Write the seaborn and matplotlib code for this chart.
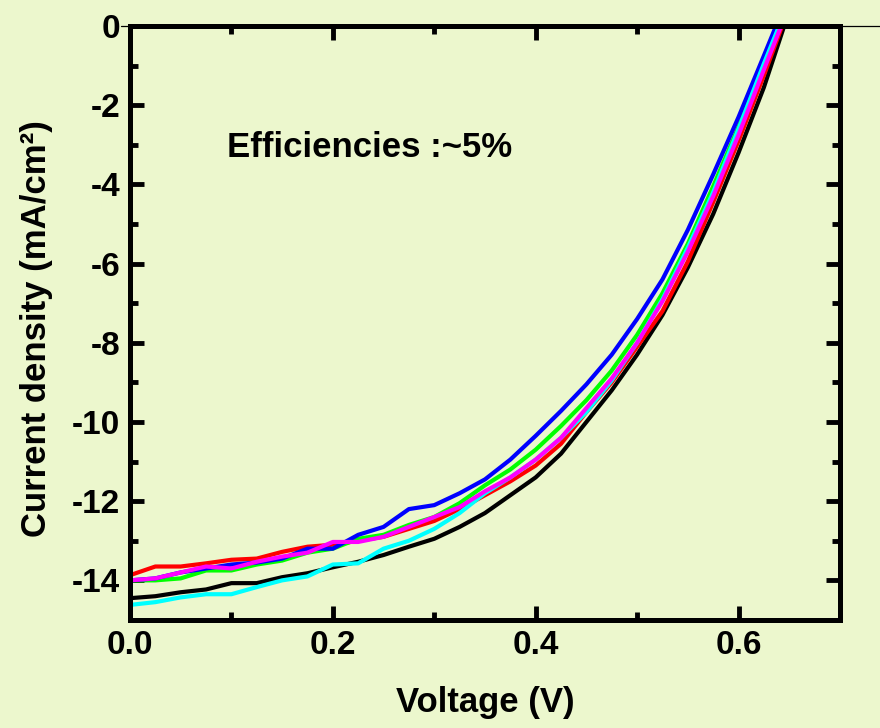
import matplotlib
matplotlib.use("Agg")
import matplotlib.pyplot as plt
import pandas as pd
import seaborn as sns
from matplotlib.ticker import MultipleLocator

BG = "#ECF7CD"

# shared voltage grid (V), every curve also gets its own end point at J = 0
V_GRID = [0.0, 0.025, 0.05, 0.075, 0.1, 0.125, 0.15, 0.175, 0.2, 0.225, 0.25, 0.275, 0.3,
          0.325, 0.35, 0.375, 0.4, 0.425, 0.45, 0.475, 0.5, 0.525, 0.55, 0.575, 0.6, 0.625]

J_BLACK = [-14.45, -14.4, -14.3, -14.23, -14.07, -14.07, -13.92, -13.82, -13.67, -13.53, -13.36,
           -13.15, -12.95, -12.65, -12.3, -11.85, -11.4, -10.8, -10.0, -9.2, -8.3, -7.3, -6.1,
           -4.75, -3.2, -1.55]
J_RED = [-13.87, -13.65, -13.65, -13.57, -13.48, -13.45, -13.28, -13.15, -13.1, -13.0, -12.9,
         -12.7, -12.5, -12.2, -11.85, -11.5, -11.1, -10.55, -9.75, -9.0, -8.1, -7.2, -5.95,
         -4.45, -2.9, -1.25]
J_GREEN = [-14.0, -14.0, -13.95, -13.75, -13.75, -13.6, -13.5, -13.3, -13.2, -12.95, -12.85,
           -12.6, -12.4, -12.05, -11.6, -11.2, -10.7, -10.1, -9.45, -8.7, -7.8, -6.75, -5.5,
           -4.05, -2.55, -0.95]
J_BLUE = [-14.0, -13.95, -13.8, -13.7, -13.6, -13.55, -13.45, -13.2, -13.2, -12.85, -12.65,
          -12.2, -12.1, -11.8, -11.45, -10.95, -10.35, -9.72, -9.05, -8.3, -7.4, -6.4, -5.15,
          -3.75, -2.3, -0.75]
J_CYAN = [-14.62, -14.55, -14.43, -14.35, -14.35, -14.17, -14.0, -13.9, -13.6, -13.57, -13.2,
          -13.0, -12.7, -12.3, -11.8, -11.4, -10.95, -10.4, -9.75, -8.95, -8.0, -6.9, -5.6,
          -4.2, -2.6, -0.95]
J_MAGENTA = [-14.0, -13.95, -13.8, -13.65, -13.7, -13.53, -13.4, -13.3, -13.03, -13.03, -12.9,
             -12.65, -12.4, -12.15, -11.75, -11.4, -10.95, -10.4, -9.65, -8.9, -8.0, -6.95,
             -5.7, -4.3, -2.75, -1.1]

SERIES = ["black", "red", "green", "blue", "cyan", "magenta"]
CURVES = [J_BLACK, J_RED, J_GREEN, J_BLUE, J_CYAN, J_MAGENTA]
VOC = [0.645, 0.643, 0.64, 0.637, 0.64, 0.642]
COLORS = ["#000000", "#FF0000", "#00FF00", "#0000FF", "#00FFFF", "#FF00FF"]

X_TICKS = [0.0, 0.2, 0.4, 0.6]
X_TICK_LABELS = ["0.0", "0.2", "0.4", "0.6"]
Y_TICKS = [0, -2, -4, -6, -8, -10, -12, -14]
Y_TICK_LABELS = ["0", "-2", "-4", "-6", "-8", "-10", "-12", "-14"]

rows = []
for name, jv, voc in zip(SERIES, CURVES, VOC):
    for v, j in zip(V_GRID + [voc], jv + [0.0]):
        rows.append({"series": name, "voltage": v, "current": j})
df = pd.DataFrame(rows)

sns.set_theme(style="ticks", rc={
    "figure.facecolor": BG,
    "axes.facecolor": BG,
    "savefig.facecolor": BG,
    "axes.unicode_minus": False,
})
plt.rcParams["font.family"] = ["Liberation Sans", "DejaVu Sans"]
plt.rcParams["font.weight"] = "bold"

fig = plt.figure(figsize=(8.8, 7.28), dpi=100)
ax = fig.add_axes([0.1477, 0.1484, 0.8068, 0.8159])

sns.lineplot(data=df, x="voltage", y="current", hue="series", hue_order=SERIES,
             palette=dict(zip(SERIES, COLORS)), estimator=None, sort=False,
             linewidth=3.0, legend=False, ax=ax)

ax.axhline(0, xmin=-0.012, xmax=1.06, clip_on=False, color="black", linewidth=0.9, zorder=0)

ax.set_xlim(0, 0.7)
ax.set_ylim(-15, 0)
ax.set_xticks(X_TICKS)
ax.set_xticklabels(X_TICK_LABELS)
ax.set_yticks(Y_TICKS)
ax.set_yticklabels(Y_TICK_LABELS)
ax.xaxis.set_minor_locator(MultipleLocator(0.1))
ax.yaxis.set_minor_locator(MultipleLocator(1))
ax.tick_params(which="both", direction="in", top=True, right=True, width=3.5,
               labelsize=24, color="black", labelcolor="black")
ax.tick_params(which="major", length=10, pad=7)
ax.tick_params(which="minor", length=6)
for lab in ax.get_xticklabels() + ax.get_yticklabels():
    lab.set_fontweight("bold")
for side in ax.spines.values():
    side.set_linewidth(3.6)
    side.set_color("black")

ax.set_xlabel("Voltage (V)", fontsize=25, fontweight="bold", color="black")
ax.set_ylabel("Current density (mA/cm²)", fontsize=25, fontweight="bold", color="black")
ax.xaxis.set_label_coords(0.5, -0.112)
ax.yaxis.set_label_coords(-0.108, 0.49)

ax.text(0.096, -3.3, "Efficiencies :~5%", fontsize=25, fontweight="bold",
        color="black", va="baseline")

fig.savefig("out.png", dpi=100, facecolor=BG)
